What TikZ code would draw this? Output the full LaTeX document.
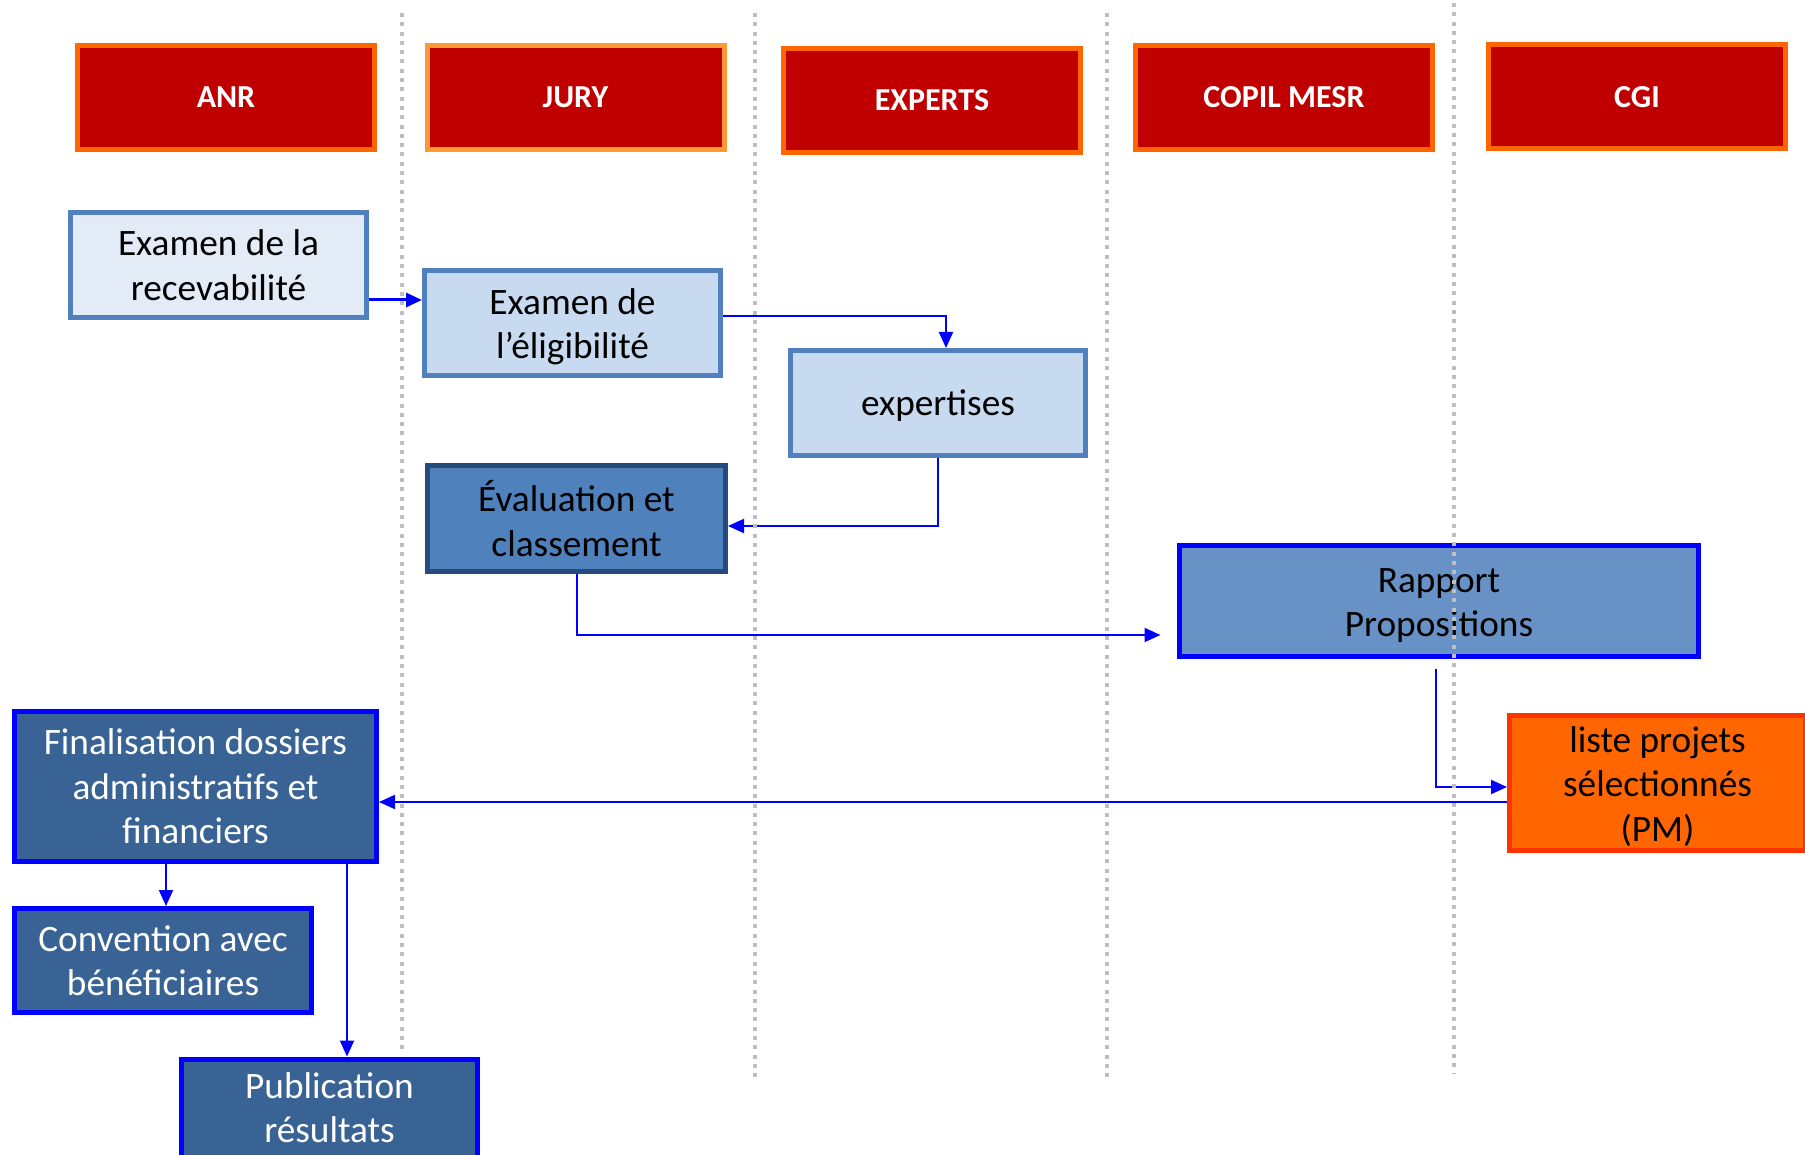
\documentclass[tikz,border=0pt]{standalone}
\usepackage{fontspec}
\setmainfont{Carlito}
\usetikzlibrary{arrows.meta}
\definecolor{hdrfill}{HTML}{C00000}
\definecolor{hdrdraw}{HTML}{FF6600}
\definecolor{hdrdrawlight}{HTML}{FF9933}
\definecolor{lightfill}{HTML}{E3EBF6}
\definecolor{palefill}{HTML}{C8DAF0}
\definecolor{steel}{HTML}{5081BE}
\definecolor{midfill}{HTML}{4F81BD}
\definecolor{navydraw}{HTML}{254B7C}
\definecolor{rapfill}{HTML}{6891C6}
\definecolor{darkfill}{HTML}{3A6395}
\definecolor{pureblue}{HTML}{0000FF}
\definecolor{orfill}{HTML}{FF6600}
\definecolor{ordraw}{HTML}{FF3300}
\definecolor{dotgray}{HTML}{BFBFBF}
\tikzset{
  hdr/.style={draw=hdrdraw, fill=hdrfill, line width=5pt, minimum width=297pt, minimum height=104pt,
    inner sep=0pt, text=white, font=\fontsize{32}{38}\selectfont\bfseries},
  box/.style={line width=5pt, inner sep=0pt, align=center, font=\fontsize{37.3}{44.5}\selectfont},
  lightbox/.style={box, draw=steel, fill=lightfill, text=black},
  palebox/.style={box, draw=steel, fill=palefill, text=black},
  midbox/.style={box, draw=navydraw, fill=midfill, text=black},
  rapbox/.style={box, draw=pureblue, fill=rapfill, text=black},
  darkbox/.style={box, draw=pureblue, fill=darkfill, text=white},
  orbox/.style={box, draw=ordraw, fill=orfill, text=black},
  arr/.style={draw=pureblue, line width=2pt, -{Triangle[length=16pt,width=14pt]}},
  lane/.style={draw=dotgray, line width=4pt, dash pattern=on 4pt off 5.3pt}
}
\begin{document}
\begin{tikzpicture}[x=1pt,y=-1pt]
\useasboundingbox (0,0) rectangle (1805,1155);

% headers
\node[hdr] (anr) at (226,97.5) {ANR};
\node[hdr, draw=hdrdrawlight] (jury) at (575.5,97.5) {JURY};
\node[hdr] (experts) at (932,100.5) {EXPERTS};
\node[hdr] (copil) at (1284,97.5) {COPIL MESR};
\node[hdr] (cgi) at (1637,97) {CGI};

% process boxes
\node[lightbox, minimum width=296pt, minimum height=105pt] (rec) at (218.5,265) {Examen de la\\recevabilité};
\node[palebox, minimum width=296pt, minimum height=105pt] (elig) at (572.5,323) {\rule{0pt}{33pt}Examen de\\l’éligibilité};
\node[palebox, minimum width=295pt, minimum height=105pt] (exp) at (938,403) {\rule{0pt}{32pt}expertises};
\node[midbox, minimum width=298pt, minimum height=106pt] (eval) at (576.5,518.5) {Évaluation et\\classement};
\node[rapbox, minimum width=519pt, minimum height=111pt] (rap) at (1439,601) {\rule{0pt}{33pt}Rapport\\Propositions};
\node[orbox, minimum width=296pt, minimum height=135pt] (liste) at (1657.5,783) {\rule{0pt}{33pt}liste projets\\sélectionnés\\(PM)};
\node[darkbox, minimum width=362pt, minimum height=150pt] (fin) at (195.5,786.5) {Finalisation dossiers\\administratifs et\\financiers};
\node[darkbox, minimum width=297pt, minimum height=104pt] (conv) at (163,960.5) {Convention avec\\bénéficiaires};
\node[darkbox, minimum width=296pt, minimum height=106pt] (pub) at (329.5,1112) {Publication\\résultats\rule[-9pt]{0pt}{0pt}};

% connectors
\draw[arr, line width=3pt] ([yshift=-35pt]rec.east) -- ([yshift=-35pt]rec.east -| elig.west);
\draw[arr] ([yshift=7pt]elig.east) -| ([xshift=8pt]exp.north);
\draw[arr] (exp.south) |- ([yshift=-7.5pt]eval.east);
\draw[arr] (eval.south) |- ([yshift=-34pt,xshift=-16.5pt]rap.west);
\draw[arr] ([xshift=-3pt,yshift=-9.5pt]rap.south) |- ([yshift=-4pt]liste.west);
\draw[arr] ([yshift=-19pt]liste.west) -- ([yshift=-19pt]liste.west -| fin.east);
\draw[arr] ([xshift=-29.5pt]fin.south) -- ([xshift=-29.5pt]fin.south |- conv.north);
\draw[arr] ([xshift=151.5pt]fin.south) -- ([xshift=151.5pt]fin.south |- pub.north);

% swim-lane separators
\coordinate (l1a) at (402,13);   \coordinate (l1b) at (402,1053);
\coordinate (l2a) at (755,13);   \coordinate (l2b) at (755,1082);
\coordinate (l3a) at (1107,13);  \coordinate (l3b) at (1107,1082);
\coordinate (l4a) at (1454,3);   \coordinate (l4b) at (1454,1073);
\draw[lane] (l1a) -- (l1b);
\draw[lane] (l2a) -- (l2b);
\draw[lane] (l3a) -- (l3b);
\draw[lane] (l4a) -- (l4b);
\end{tikzpicture}
\end{document}
